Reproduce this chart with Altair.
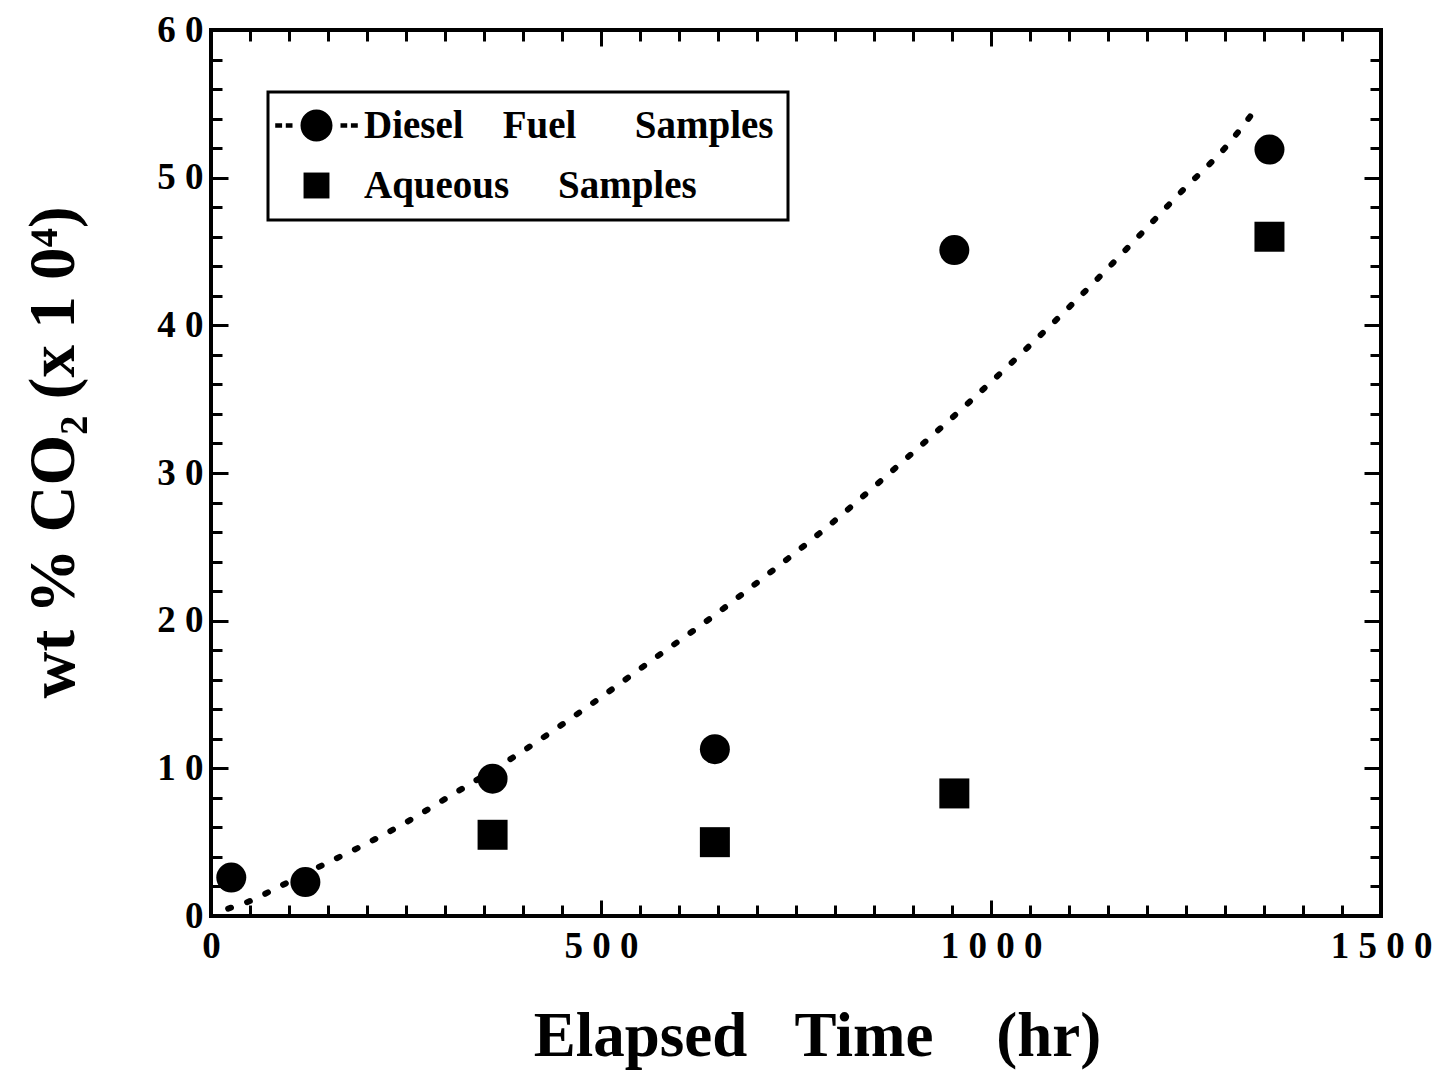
import altair as alt
import pandas as pd

# ---- data ----
diesel_t = [26, 121, 361, 646, 953, 1357]
diesel_v = [2.6, 2.3, 9.3, 11.3, 45.1, 51.9]
aq_t = [361, 646, 953, 1357]
aq_v = [5.5, 5.0, 8.3, 46.0]
fit_t = [22, 47, 88, 149, 188, 252, 293, 392, 489, 570, 631, 708, 789, 868,
         968, 1049, 1130, 1187, 1245, 1303, 1343]
fit_v = [0.5, 0.95, 2.0, 3.6, 4.6, 6.4, 7.7, 10.9, 14.4, 17.5, 19.8, 22.9, 26.3,
         29.9, 34.6, 38.6, 42.8, 45.9, 49.1, 52.2, 54.9]

NB = "\u00a0"
lab_d = "Diesel" + NB * 4 + "Fuel" + NB * 6 + "Samples"
lab_a = "Aqueous" + NB * 5 + "Samples"
x_title = "Elapsed" + NB * 3 + "Time" + NB * 4 + "(hr)"
y_title = "wt % CO\u2082 (x 1 0\u2074)"

x_major = [0, 500, 1000, 1500]
x_minor = list(range(0, 1501, 50))
y_major = list(range(0, 61, 10))
y_minor = list(range(0, 61, 2))

W, H = 1170, 886
FONT = "Liberation Serif"

fit_df = pd.DataFrame({"t": fit_t, "v": fit_v})
d_df = pd.DataFrame({"t": diesel_t, "v": diesel_v})
a_df = pd.DataFrame({"t": aq_t, "v": aq_v})
leg_df = pd.concat([d_df.assign(s=lab_d), a_df.assign(s=lab_a)], ignore_index=True)

xscale = alt.Scale(domain=[0, 1500], nice=False, zero=False)
yscale = alt.Scale(domain=[0, 60], nice=False, zero=False)

spaced = "join(split(datum.label, ''), ' ')"


def tick_axis(orient, values, size, off):
    return alt.Axis(orient=orient, offset=off, values=values, tickSize=size,
                    labels=False, domain=False, grid=False, title=None, ticks=True)


main_x = alt.Axis(orient="bottom", values=x_major, format="d", labelExpr=spaced,
                  ticks=False, domain=False, grid=False, labelPadding=12,
                  labelFlush=False, title=x_title, titleFontSize=63,
                  titleX=606, titleY=139, titleBaseline="alphabetic",
                  titleAlign="center")
main_y = alt.Axis(orient="left", values=y_major, format="d", labelExpr=spaced,
                  ticks=False, domain=False, grid=False, labelPadding=8,
                  labelFlush=False, title=y_title, titleFontSize=65,
                  titleX=-138, titleY=422, titleAngle=270,
                  titleBaseline="alphabetic", titleAlign="center")

fit = alt.Chart(fit_df).mark_line(
    color="black", strokeWidth=6, strokeDash=[3, 17], strokeCap="round",
    interpolate="monotone"
).encode(
    x=alt.X("t:Q", scale=xscale, axis=main_x),
    y=alt.Y("v:Q", scale=yscale, axis=main_y),
)

diesel = alt.Chart(d_df).mark_point(
    shape="circle", filled=True, size=900, color="black", opacity=1
).encode(
    x=alt.X("t:Q", scale=xscale, axis=tick_axis("top", x_minor, 11, -H)),
    y=alt.Y("v:Q", scale=yscale, axis=tick_axis("right", y_minor, 11, -W)),
)

aqueous = alt.Chart(a_df).mark_point(
    shape="square", filled=True, size=900, color="black", opacity=1
).encode(
    x=alt.X("t:Q", scale=xscale, axis=tick_axis("top", x_major, 16, -H)),
    y=alt.Y("v:Q", scale=yscale, axis=tick_axis("right", y_major, 17, -W)),
)

circ_path = ("M-1,0A1,1 0 1,1 1,0A1,1 0 1,1 -1,0Z "
             "M-2.58,-0.14H-2.15V0.14H-2.58Z M-1.92,-0.14H-1.5V0.14H-1.92Z "
             "M1.5,-0.14H1.92V0.14H1.5Z M2.15,-0.14H2.58V0.14H2.15Z")
sq_path = "M-0.81,-0.81H0.81V0.81H-0.81Z"

legend_layer = alt.Chart(leg_df).mark_point(
    filled=True, color="black", opacity=0
).encode(
    x=alt.X("t:Q", scale=xscale, axis=tick_axis("bottom", x_minor, 11, -H)),
    y=alt.Y("v:Q", scale=yscale, axis=tick_axis("left", y_minor, 11, -W)),
    shape=alt.Shape("s:N", scale=alt.Scale(domain=[lab_d, lab_a],
                                           range=[circ_path, sq_path]),
                    legend=alt.Legend(orient="none", legendX=57, legendY=62,
                                      title=None, symbolSize=1024,
                                      symbolOffset=15, padding=14,
                                      labelOffset=28, rowPadding=20,
                                      labelFont=FONT, labelFontSize=39,
                                      labelFontWeight="bold", labelColor="black",
                                      labelLimit=1000, symbolFillColor="black",
                                      symbolStrokeWidth=0, symbolOpacity=1,
                                      strokeColor="black", fillColor="white")),
)

dummy = alt.Chart(fit_df).mark_line(strokeOpacity=0, color="black").encode(
    x=alt.X("t:Q", scale=xscale, axis=tick_axis("bottom", x_major, 16, -H)),
    y=alt.Y("v:Q", scale=yscale, axis=tick_axis("left", y_major, 17, -W)),
)

chart = alt.layer(fit, diesel, aqueous, legend_layer, dummy).resolve_axis(
    x="independent", y="independent"
).properties(
    width=W, height=H,
    autosize=alt.AutoSizeParams(type="none"),
    padding={"left": 211, "top": 30, "right": 58, "bottom": 154},
    background="white",
).configure_axis(
    labelFont=FONT, labelFontSize=37, labelFontWeight="bold", labelColor="black",
    titleFont=FONT, titleFontWeight="bold", titleColor="black",
    tickColor="black", tickWidth=3,
).configure_legend(
    strokeWidth=3,
).configure_view(
    stroke="black", strokeWidth=4,
)

chart.save("out.html", embed_options={"renderer": "svg", "actions": False})
